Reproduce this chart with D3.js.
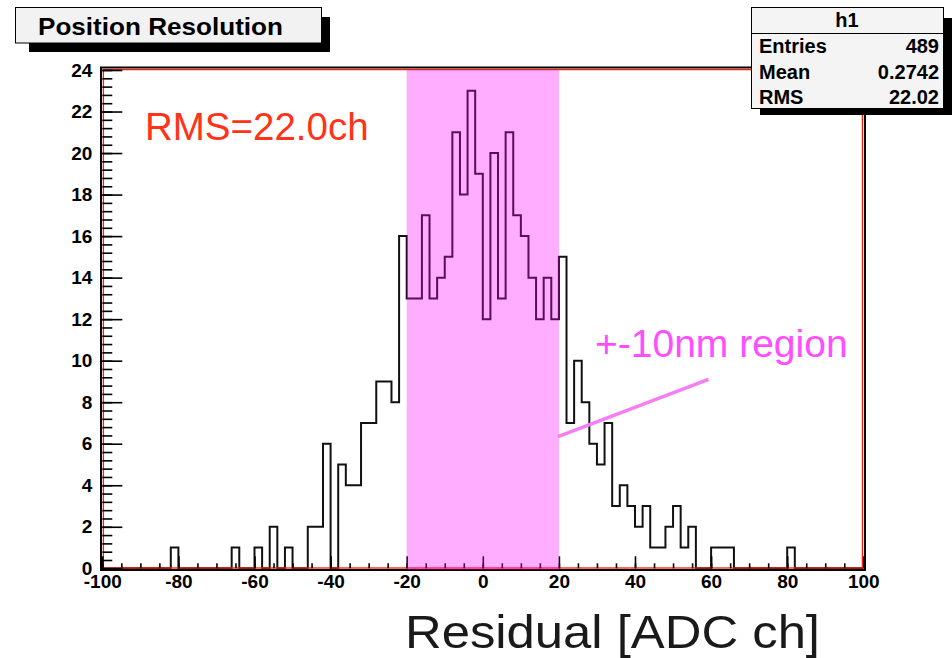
<!DOCTYPE html>
<html lang="en">
<head>
<meta charset="utf-8">
<title>Position Resolution</title>
<script src="https://d3js.org/d3.v7.min.js"></script>
<style>
	body { margin: 0; background-color: white; }
	svg text { font-family: "Liberation Sans", Arial, Helvetica, sans-serif; }
	.axis text { font-weight: bold; font-size: 19px; fill: black; }
	.axis line { stroke: black; stroke-width: 1.6px; }
	.axis path { display: none; }
	.stats text { font-weight: bold; font-size: 20px; fill: black; }
</style>
</head>
<body>
<script>
	// histogram h1 : 100 bins of width 2 from -100 to 100
	var binStart = -100, binWidth = 2;
	var counts = [
		0,0,0,0,0,0,0,0,0,1,
		0,0,0,0,0,0,0,1,0,0,
		1,0,2,0,1,0,0,2,2,6,
		0,5,4,4,7,7,9,9,8,16,
		13,13,17,13,14,15,21,18,23,19,
		12,20,13,21,17,16,14,12,14,12,
		15,7,10,8,6,5,7,3,4,3,
		2,3,1,1,2,3,1,2,0,0,
		1,1,1,0,0,0,0,0,0,0,
		1,0,0,0,0,0,0,0,0,0
	];
	var xTicks = [-100,-80,-60,-40,-20,0,20,40,60,80,100];
	var yTicks = [0,2,4,6,8,10,12,14,16,18,20,22,24];
	var region = [-20, 20];
	var statNames = ["Entries", "Mean", "RMS"];
	var statValues = ["489", "0.2742", "22.02"];

	var W = 952, H = 658;
	var svg = d3.select("body").append("svg")
		.attr("width", W).attr("height", H);

	var x = d3.scaleLinear().domain([-100, 100]).range([102.3, 863.3]);
	var y = d3.scaleLinear().domain([0, 24]).range([568.3, 70]);

	// histogram outline
	var pts = [[-100, 0]];
	counts.forEach(function(c, i) {
		var lo = binStart + i * binWidth;
		pts.push([lo, c]);
		pts.push([lo + binWidth, c]);
	});
	pts.push([100, 0]);
	var line = d3.line()
		.x(function(d) { return x(d[0]); })
		.y(function(d) { return y(d[1]); });
	svg.append("path")
		.attr("d", line(pts))
		.attr("fill", "none")
		.attr("stroke", "#111")
		.attr("stroke-width", 2);

	// frame
	svg.append("rect")
		.attr("x", 101).attr("y", 67.5)
		.attr("width", 764).attr("height", 502.5)
		.attr("fill", "none").attr("stroke", "black").attr("stroke-width", 2);
	svg.append("rect")
		.attr("x", 103.4).attr("y", 69.6)
		.attr("width", 759).attr("height", 498.4)
		.attr("fill", "none").attr("stroke", "#ff1a00").attr("stroke-width", 1.3);

	// y axis
	svg.append("g").attr("class", "axis")
		.attr("transform", "translate(" + x(-100) + ",0)")
		.call(d3.axisLeft(y).tickValues(d3.range(0, 24.01, 0.4)).tickSize(-10).tickFormat(""));
	svg.append("g").attr("class", "axis")
		.attr("transform", "translate(" + x(-100) + ",0)")
		.call(d3.axisLeft(y).tickValues(yTicks).tickSize(-20).tickPadding(10)
			.tickFormat(function(d) { return String(d); }));

	// x axis
	svg.append("g").attr("class", "axis")
		.attr("transform", "translate(0," + y(0) + ")")
		.call(d3.axisBottom(x).tickValues(d3.range(-100, 100.1, 5)).tickSize(-5).tickFormat(""));
	svg.append("g").attr("class", "axis")
		.attr("transform", "translate(0," + y(0) + ")")
		.call(d3.axisBottom(x).tickValues(xTicks).tickSize(-12).tickPadding(6)
			.tickFormat(function(d) { return String(d); }));

	// +-10nm region band
	svg.append("rect")
		.attr("x", x(region[0])).attr("y", y(24))
		.attr("width", x(region[1]) - x(region[0]))
		.attr("height", y(0) - y(24) + 1.5)
		.attr("fill", "#ff00ff").attr("fill-opacity", 0.32);

	// annotations
	svg.append("text")
		.attr("x", 145).attr("y", 140)
		.attr("font-size", 38.5).attr("fill", "#ff3317")
		.text("RMS=22.0ch");
	svg.append("text")
		.attr("x", 595).attr("y", 357)
		.attr("font-size", 39).attr("fill", "#ff4dff")
		.text("+-10nm region");
	svg.append("line")
		.attr("x1", 558).attr("y1", 436.7)
		.attr("x2", 708.5).attr("y2", 379.3)
		.attr("stroke", "#f57ef5").attr("stroke-width", 3.5);
	svg.append("text")
		.attr("x", 405).attr("y", 648)
		.attr("font-size", 46).attr("fill", "#1a1a1a")
		.attr("textLength", 415).attr("lengthAdjust", "spacingAndGlyphs")
		.text("Residual [ADC ch]");

	// title box
	svg.append("rect")
		.attr("x", 29).attr("y", 17).attr("width", 301).attr("height", 35)
		.attr("fill", "black");
	svg.append("rect")
		.attr("x", 15.5).attr("y", 7.5).attr("width", 306).attr("height", 35.5)
		.attr("fill", "#f2f2f2").attr("stroke", "black").attr("stroke-width", 1);
	svg.append("text")
		.attr("x", 38).attr("y", 35)
		.attr("font-size", 24).attr("font-weight", "bold")
		.attr("textLength", 245).attr("lengthAdjust", "spacingAndGlyphs")
		.text("Position Resolution");

	// stats box
	var stats = svg.append("g").attr("class", "stats");
	stats.append("rect")
		.attr("x", 760).attr("y", 18).attr("width", 192).attr("height", 97)
		.attr("fill", "black");
	stats.append("rect")
		.attr("x", 751.5).attr("y", 7.5).attr("width", 192).attr("height", 101)
		.attr("fill", "#f4f4f4").attr("stroke", "black").attr("stroke-width", 1);
	stats.append("line")
		.attr("x1", 751.5).attr("x2", 943.5).attr("y1", 33.5).attr("y2", 33.5)
		.attr("stroke", "black");
	stats.append("text")
		.attr("x", 847).attr("y", 27).attr("text-anchor", "middle")
		.text("h1");
	stats.selectAll(".sname").data(statNames).enter().append("text")
		.attr("class", "sname")
		.attr("x", 759).attr("y", function(d, i) { return 53 + i * 25.5; })
		.text(function(d) { return d; });
	stats.selectAll(".sval").data(statValues).enter().append("text")
		.attr("class", "sval")
		.attr("x", 939).attr("y", function(d, i) { return 53 + i * 25.5; })
		.attr("text-anchor", "end")
		.text(function(d) { return d; });
</script>
</body>
</html>
